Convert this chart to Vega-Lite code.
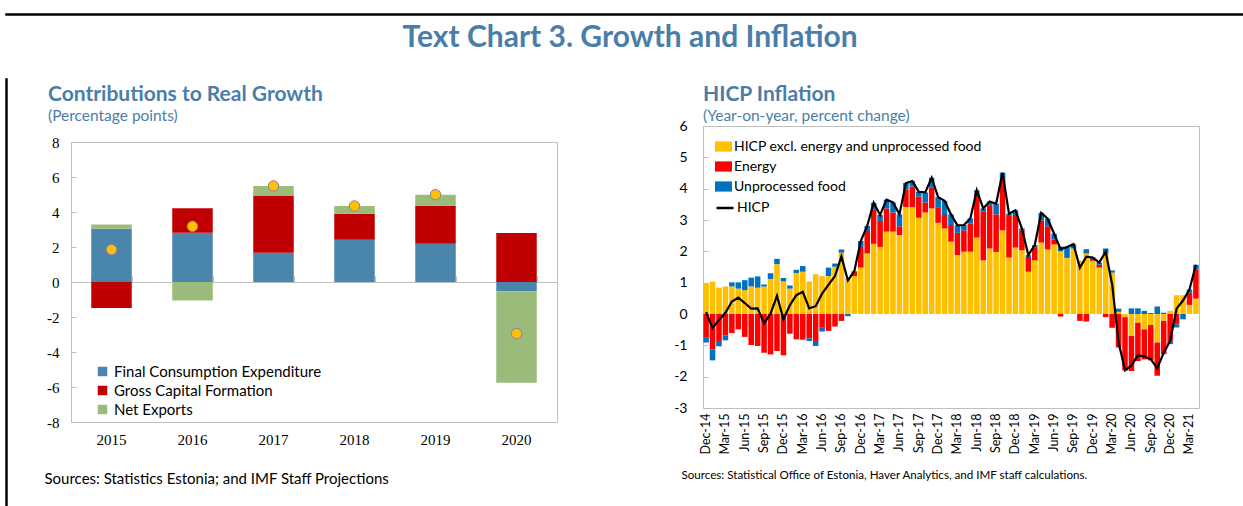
{
  "$schema": "https://vega.github.io/schema/vega-lite/v6.json",
  "background": "white",
  "padding": {"left": 3, "top": 11, "right": 0, "bottom": 0},
  "config": {
    "view": {"stroke": null},
    "font": "Lato",
    "axis": {"grid": false, "labelFont": "Lato", "titleFont": "Lato", "labelOverlap": false},
    "legend": {"labelFont": "Lato", "labelLimit": 400},
    "title": {"font": "Lato"}
  },
  "datasets": {
    "blank": [{"k": 1}],
    "growth": [
      {"year": "2015", "fce": 3.05, "gcf": -1.49, "nx": 0.24, "total": 1.85},
      {"year": "2016", "fce": 2.82, "gcf": 1.39, "nx": -1.05, "total": 3.18},
      {"year": "2017", "fce": 1.67, "gcf": 3.24, "nx": 0.57, "total": 5.49},
      {"year": "2018", "fce": 2.42, "gcf": 1.48, "nx": 0.44, "total": 4.34},
      {"year": "2019", "fce": 2.19, "gcf": 2.17, "nx": 0.63, "total": 4.99},
      {"year": "2020", "fce": -0.53, "gcf": 2.8, "nx": -5.22, "total": -2.95}
    ],
    "hicp": [
      {"m": "Dec-14", "core": 0.97, "energy": -0.76, "food": -0.15, "hicp": 0.06},
      {"m": "Jan-15", "core": 1.03, "energy": -1.13, "food": -0.35, "hicp": -0.45},
      {"m": "Feb-15", "core": 0.84, "energy": -0.86, "food": -0.17, "hicp": -0.19},
      {"m": "Mar-15", "core": 0.88, "energy": -0.68, "food": -0.16, "hicp": 0.04},
      {"m": "Apr-15", "core": 0.88, "energy": -0.61, "food": 0.13, "hicp": 0.40},
      {"m": "May-15", "core": 0.81, "energy": -0.49, "food": 0.20, "hicp": 0.52},
      {"m": "Jun-15", "core": 0.76, "energy": -0.73, "food": 0.32, "hicp": 0.35},
      {"m": "Jul-15", "core": 0.88, "energy": -0.99, "food": 0.28, "hicp": 0.17},
      {"m": "Aug-15", "core": 0.84, "energy": -1.02, "food": 0.36, "hicp": 0.18},
      {"m": "Sep-15", "core": 0.88, "energy": -1.24, "food": 0.06, "hicp": -0.30},
      {"m": "Oct-15", "core": 1.12, "energy": -1.29, "food": 0.18, "hicp": 0.01},
      {"m": "Nov-15", "core": 1.59, "energy": -1.18, "food": 0.17, "hicp": 0.58},
      {"m": "Dec-15", "core": 1.04, "energy": -1.32, "food": 0.11, "hicp": -0.17},
      {"m": "Jan-16", "core": 0.81, "energy": -0.63, "food": 0.10, "hicp": 0.28},
      {"m": "Feb-16", "core": 1.31, "energy": -0.81, "food": 0.10, "hicp": 0.60},
      {"m": "Mar-16", "core": 1.35, "energy": -0.82, "food": 0.18, "hicp": 0.71},
      {"m": "Apr-16", "core": 1.04, "energy": -0.78, "food": -0.08, "hicp": 0.18},
      {"m": "May-16", "core": 1.27, "energy": -0.86, "food": -0.16, "hicp": 0.25},
      {"m": "Jun-16", "core": 1.21, "energy": -0.44, "food": -0.12, "hicp": 0.65},
      {"m": "Jul-16", "core": 1.21, "energy": -0.54, "food": 0.27, "hicp": 0.94},
      {"m": "Aug-16", "core": 1.51, "energy": -0.40, "food": 0.10, "hicp": 1.21},
      {"m": "Sep-16", "core": 1.96, "energy": -0.22, "food": 0.10, "hicp": 1.84},
      {"m": "Oct-16", "core": 1.14, "energy": 0.0, "food": -0.07, "hicp": 1.07},
      {"m": "Nov-16", "core": 1.21, "energy": 0.14, "food": 0.02, "hicp": 1.37},
      {"m": "Dec-16", "core": 1.48, "energy": 0.66, "food": 0.19, "hicp": 2.33},
      {"m": "Jan-17", "core": 1.93, "energy": 0.72, "food": 0.16, "hicp": 2.81},
      {"m": "Feb-17", "core": 2.24, "energy": 1.10, "food": 0.21, "hicp": 3.55},
      {"m": "Mar-17", "core": 2.14, "energy": 0.83, "food": 0.19, "hicp": 3.16},
      {"m": "Apr-17", "core": 2.63, "energy": 0.74, "food": 0.28, "hicp": 3.65},
      {"m": "May-17", "core": 2.63, "energy": 0.61, "food": 0.32, "hicp": 3.56},
      {"m": "Jun-17", "core": 2.52, "energy": 0.28, "food": 0.38, "hicp": 3.18},
      {"m": "Jul-17", "core": 3.41, "energy": 0.56, "food": 0.21, "hicp": 4.18},
      {"m": "Aug-17", "core": 3.41, "energy": 0.66, "food": 0.17, "hicp": 4.24},
      {"m": "Sep-17", "core": 3.07, "energy": 0.68, "food": 0.15, "hicp": 3.90},
      {"m": "Oct-17", "core": 3.24, "energy": 0.32, "food": 0.32, "hicp": 3.88},
      {"m": "Nov-17", "core": 3.37, "energy": 0.66, "food": 0.32, "hicp": 4.35},
      {"m": "Dec-17", "core": 2.91, "energy": 0.50, "food": 0.32, "hicp": 3.73},
      {"m": "Jan-18", "core": 2.73, "energy": 0.43, "food": 0.45, "hicp": 3.61},
      {"m": "Feb-18", "core": 2.31, "energy": 0.53, "food": 0.34, "hicp": 3.18},
      {"m": "Mar-18", "core": 1.88, "energy": 0.71, "food": 0.24, "hicp": 2.83},
      {"m": "Apr-18", "core": 1.99, "energy": 0.68, "food": 0.17, "hicp": 2.84},
      {"m": "May-18", "core": 1.99, "energy": 0.89, "food": 0.17, "hicp": 3.05},
      {"m": "Jun-18", "core": 2.44, "energy": 1.40, "food": 0.11, "hicp": 3.95},
      {"m": "Jul-18", "core": 1.71, "energy": 1.55, "food": 0.11, "hicp": 3.37},
      {"m": "Aug-18", "core": 2.09, "energy": 1.36, "food": 0.14, "hicp": 3.59},
      {"m": "Sep-18", "core": 1.98, "energy": 1.20, "food": 0.34, "hicp": 3.52},
      {"m": "Oct-18", "core": 2.67, "energy": 1.66, "food": 0.18, "hicp": 4.51},
      {"m": "Nov-18", "core": 1.80, "energy": 1.33, "food": 0.07, "hicp": 3.20},
      {"m": "Dec-18", "core": 2.12, "energy": 1.04, "food": 0.15, "hicp": 3.31},
      {"m": "Jan-19", "core": 2.03, "energy": 0.64, "food": 0.06, "hicp": 2.73},
      {"m": "Feb-19", "core": 1.35, "energy": 0.47, "food": 0.06, "hicp": 1.88},
      {"m": "Mar-19", "core": 1.71, "energy": 0.40, "food": 0.09, "hicp": 2.20},
      {"m": "Apr-19", "core": 2.28, "energy": 0.71, "food": 0.24, "hicp": 3.23},
      {"m": "May-19", "core": 2.06, "energy": 0.74, "food": 0.24, "hicp": 3.04},
      {"m": "Jun-19", "core": 2.22, "energy": 0.16, "food": 0.18, "hicp": 2.56},
      {"m": "Jul-19", "core": 2.00, "energy": -0.08, "food": 0.15, "hicp": 2.07},
      {"m": "Aug-19", "core": 1.79, "energy": 0.0, "food": 0.35, "hicp": 2.14},
      {"m": "Sep-19", "core": 2.09, "energy": 0.0, "food": 0.14, "hicp": 2.23},
      {"m": "Oct-19", "core": 1.70, "energy": -0.22, "food": 0.0, "hicp": 1.48},
      {"m": "Nov-19", "core": 1.93, "energy": -0.24, "food": 0.14, "hicp": 1.83},
      {"m": "Dec-19", "core": 1.70, "energy": 0.06, "food": 0.04, "hicp": 1.80},
      {"m": "Jan-20", "core": 1.48, "energy": 0.09, "food": 0.07, "hicp": 1.64},
      {"m": "Feb-20", "core": 1.93, "energy": -0.10, "food": 0.16, "hicp": 1.99},
      {"m": "Mar-20", "core": 1.32, "energy": -0.44, "food": 0.07, "hicp": 0.95},
      {"m": "Apr-20", "core": 0.07, "energy": -1.07, "food": 0.10, "hicp": -0.90},
      {"m": "May-20", "core": -0.10, "energy": -1.70, "food": 0.0, "hicp": -1.80},
      {"m": "Jun-20", "core": -0.70, "energy": -1.12, "food": 0.18, "hicp": -1.64},
      {"m": "Jul-20", "core": -0.28, "energy": -1.22, "food": 0.18, "hicp": -1.32},
      {"m": "Aug-20", "core": -0.49, "energy": -0.96, "food": 0.10, "hicp": -1.35},
      {"m": "Sep-20", "core": -0.35, "energy": -1.13, "food": 0.03, "hicp": -1.45},
      {"m": "Oct-20", "core": -0.91, "energy": -1.06, "food": 0.24, "hicp": -1.73},
      {"m": "Nov-20", "core": -0.22, "energy": -1.06, "food": 0.04, "hicp": -1.24},
      {"m": "Dec-20", "core": 0.10, "energy": -0.86, "food": -0.10, "hicp": -0.86},
      {"m": "Jan-21", "core": 0.60, "energy": -0.33, "food": -0.10, "hicp": 0.17},
      {"m": "Feb-21", "core": 0.60, "energy": 0.0, "food": -0.17, "hicp": 0.43},
      {"m": "Mar-21", "core": 0.29, "energy": 0.39, "food": 0.10, "hicp": 0.78},
      {"m": "Apr-21", "core": 0.49, "energy": 0.94, "food": 0.14, "hicp": 1.57}
    ]
  },
  "vconcat": [
    {
      "width": 1240,
      "height": 1,
      "data": {"name": "blank"},
      "mark": {"type": "point", "opacity": 0},
      "view": {"stroke": "#000000", "strokeWidth": 1.5}
    },
    {
      "spacing": 33,
      "hconcat": [
        {
          "width": 1,
          "height": 487,
          "data": {"name": "blank"},
          "mark": {"type": "point", "opacity": 0},
          "view": {"stroke": "#000000", "strokeWidth": 1.5}
        },
        {
          "title": {"text": " ", "fontSize": 2, "subtitle": "Text Chart 3. Growth and Inflation", "subtitleFont": "Lato", "subtitleFontSize": 30, "subtitleFontWeight": "bold", "subtitleColor": "#4A7EA8", "subtitlePadding": 2, "anchor": "middle", "offset": 24, "dx": 8},
          "spacing": 115,
          "resolve": {"scale": {"color": "independent", "stroke": "independent"}, "legend": {"color": "independent", "stroke": "independent"}},
          "hconcat": [
            {
              "spacing": 0,
              "resolve": {"scale": {"color": "independent", "stroke": "independent"}, "legend": {"color": "independent", "stroke": "independent"}},
              "vconcat": [
                {
                  "width": 1,
                  "height": 1,
                  "data": {"name": "blank"},
                  "mark": {"type": "point", "opacity": 0}
                },
                {
                  "width": 486,
                  "height": 280,
                  "view": {"stroke": "#BFBFBF"},
                  "title": {"text": "Contributions to Real Growth", "subtitle": "(Percentage points)", "anchor": "start", "frame": "bounds", "dx": 4, "fontSize": 21, "fontWeight": "bold", "color": "#4A7EA8", "subtitleColor": "#4A7EA8", "subtitleFont": "Lato", "subtitleFontSize": 15.5, "subtitlePadding": 4, "offset": 11},
                  "data": {"name": "growth"},
                  "layer": [
                    {
                      "transform": [{"fold": ["fce", "gcf", "nx"], "as": ["key", "value"]}],
                      "mark": {"type": "bar"},
                      "encoding": {
                        "x": {"field": "year", "type": "ordinal", "scale": {"paddingInner": 0.5, "paddingOuter": 0.25},
                          "axis": {"title": "Sources: Statistics Estonia; and IMF Staff Projections", "titleFontSize": 15, "titleFontWeight": "normal", "titleColor": "#000000", "titleAnchor": "start", "titleAlign": "left", "titleX": -27, "titleY": 56, "titleBaseline": "middle", "domain": false, "ticks": false, "labelAngle": 0, "labelFont": "Liberation Serif", "labelFontSize": 15, "labelColor": "#000000", "labelPadding": 10}},
                        "y": {"field": "value", "type": "quantitative", "stack": "zero", "scale": {"domain": [-8, 8], "nice": false},
                          "axis": {"values": [-8, -6, -4, -2, 0, 2, 4, 6, 8], "tickCount": 20, "labelExpr": "'' + datum.value", "labelOverlap": false, "title": null, "domain": false, "ticks": true, "tickSize": -5, "tickColor": "#BFBFBF", "labelFont": "Liberation Serif", "labelFontSize": 15, "labelColor": "#000000", "labelPadding": 17}},
                        "color": {"field": "key", "type": "nominal", "scale": {"domain": ["fce", "gcf", "nx"], "range": ["#4A86AC", "#C00000", "#9BBB7A"]},
                          "legend": {"orient": "none", "legendX": 24, "legendY": 222, "title": null, "labelExpr": "datum.value == 'fce' ? 'Final Consumption Expenditure' : datum.value == 'gcf' ? 'Gross Capital Formation' : 'Net Exports'", "symbolType": "square", "symbolSize": 90, "labelFontSize": 15, "labelColor": "#000000", "rowPadding": 3, "labelOffset": 4, "padding": 0}},
                        "order": {"field": "key"}
                      }
                    },
                    {
                      "mark": {"type": "point", "filled": true, "size": 110, "fill": "#FFC000", "stroke": "#8E7CA8", "strokeWidth": 1, "opacity": 1},
                      "encoding": {
                        "x": {"field": "year", "type": "ordinal",
                          "axis": {"orient": "bottom", "offset": -140, "labels": false, "title": null, "domain": true, "domainColor": "#BFBFBF", "ticks": true, "tickBand": "extent", "tickSize": -6, "tickColor": "#BFBFBF"}},
                        "y": {"field": "total", "type": "quantitative"}
                      }
                    }
                  ],
                  "resolve": {"axis": {"x": "independent"}}
                }
              ]
            },
            {
              "spacing": 0,
              "resolve": {"scale": {"color": "independent", "stroke": "independent"}, "legend": {"color": "independent", "stroke": "independent"}},
              "vconcat": [
                {
                  "width": 1,
                  "height": 1,
                  "data": {"name": "blank"},
                  "mark": {"type": "point", "opacity": 0}
                },
                {
                  "width": 496,
                  "height": 282,
                  "view": {"stroke": "#BFBFBF"},
                  "title": {"text": "HICP Inflation", "subtitle": "(Year-on-year, percent change)", "anchor": "start", "frame": "group", "fontSize": 21, "fontWeight": "bold", "color": "#4A7EA8", "subtitleColor": "#4A7EA8", "subtitleFont": "Lato", "subtitleFontSize": 15.5, "subtitlePadding": 4, "offset": -5},
                  "data": {"name": "hicp"},
                  "layer": [
                    {
                      "transform": [{"fold": ["core", "energy", "food"], "as": ["key", "value"]}],
                      "mark": {"type": "bar"},
                      "encoding": {
                        "x": {"field": "m", "type": "ordinal", "sort": null, "scale": {"paddingInner": 0.14, "paddingOuter": 0.05},
                          "axis": {"values": ["Dec-14", "Mar-15", "Jun-15", "Sep-15", "Dec-15", "Mar-16", "Jun-16", "Sep-16", "Dec-16", "Mar-17", "Jun-17", "Sep-17", "Dec-17", "Mar-18", "Jun-18", "Sep-18", "Dec-18", "Mar-19", "Jun-19", "Sep-19", "Dec-19", "Mar-20", "Jun-20", "Sep-20", "Dec-20", "Mar-21"], "labelAngle": -90, "labelFontSize": 12.5, "labelColor": "#000000", "domain": false, "ticks": false, "labelPadding": 5, "title": "Sources: Statistical Office of Estonia, Haver Analytics, and IMF staff calculations.", "titleFontSize": 11.6, "titleFontWeight": "normal", "titleColor": "#000000", "titleAnchor": "start", "titleAlign": "left", "titleX": -22, "titleY": 67, "titleBaseline": "middle"}},
                        "y": {"field": "value", "type": "quantitative", "stack": "zero", "scale": {"domain": [-3, 6], "nice": false},
                          "axis": {"values": [-3, -2, -1, 0, 1, 2, 3, 4, 5, 6], "tickCount": 20, "labelExpr": "'' + datum.value", "labelOverlap": false, "title": null, "domain": false, "ticks": true, "tickSize": -5, "tickColor": "#BFBFBF", "labelFontSize": 14, "labelColor": "#000000", "labelPadding": 21}},
                        "color": {"field": "key", "type": "nominal", "scale": {"domain": ["core", "energy", "food"], "range": ["#FFC000", "#FF0000", "#0070C0"]},
                          "legend": {"orient": "top-left", "offset": 12, "title": null, "labelExpr": "datum.value == 'core' ? 'HICP excl. energy and unprocessed food' : datum.value == 'energy' ? 'Energy' : 'Unprocessed food'", "symbolType": "M-1,-0.6H1V0.6H-1Z", "symbolSize": 289, "symbolStrokeWidth": 0, "labelFontSize": 14, "labelColor": "#000000", "rowPadding": 4, "labelOffset": 2, "padding": 0}},
                        "order": {"field": "key"}
                      }
                    },
                    {
                      "mark": {"type": "line", "strokeWidth": 2.2},
                      "encoding": {
                        "x": {"field": "m", "type": "ordinal", "sort": null},
                        "y": {"field": "hicp", "type": "quantitative"},
                        "stroke": {"datum": "HICP", "scale": {"range": ["#000000"]},
                          "legend": {"orient": "none", "legendX": 12, "legendY": 72, "title": null, "symbolType": "stroke", "symbolSize": 289, "symbolStrokeWidth": 2.5, "labelFontSize": 14, "labelColor": "#000000", "labelOffset": 2, "padding": 0}}
                      }
                    }
                  ]
                }
              ]
            }
          ]
        }
      ]
    }
  ],
  "spacing": 0
}
